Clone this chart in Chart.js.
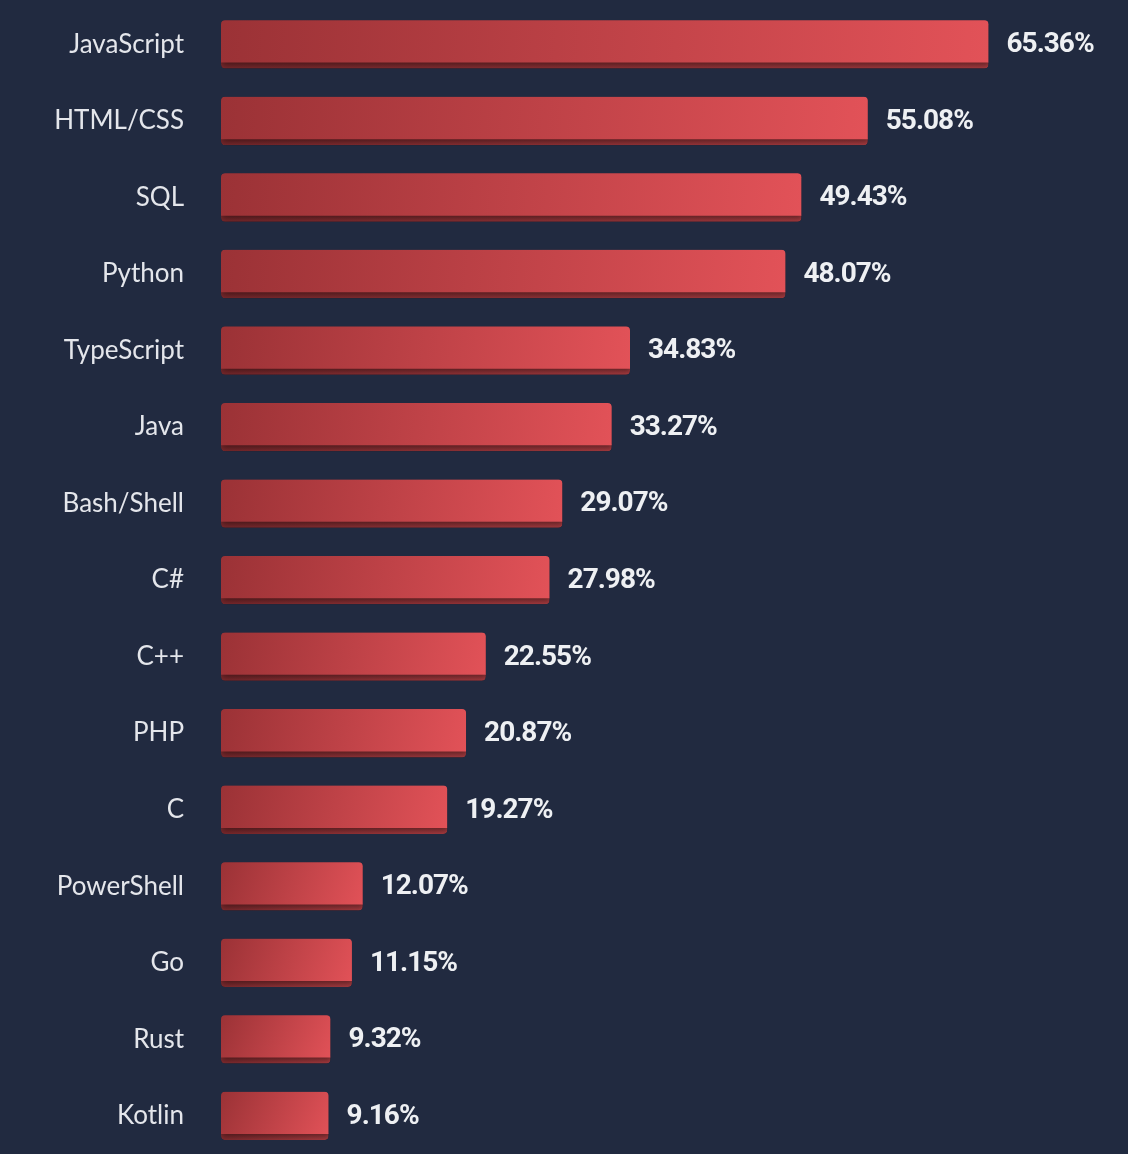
<!DOCTYPE html>
<html>
<head>
<meta charset="utf-8">
<script src="https://cdn.jsdelivr.net/npm/chart.js@4/dist/chart.umd.min.js"></script>
<style>
  html, body { margin: 0; padding: 0; background: #212a40; }
  #wrap { width: 1128px; height: 1154px; position: relative; }
</style>
</head>
<body>
<div id="wrap"><canvas id="c"></canvas></div>
<script>
const categories = ["JavaScript", "HTML/CSS", "SQL", "Python", "TypeScript", "Java", "Bash/Shell", "C#", "C++", "PHP", "C", "PowerShell", "Go", "Rust", "Kotlin"];
const values = [65.36, 55.08, 49.43, 48.07, 34.83, 33.27, 29.07, 27.98, 22.55, 20.87, 19.27, 12.07, 11.15, 9.32, 9.16];

function barGradient(ctx, light) {
  const chart = ctx.chart;
  if (!chart.chartArea) return light ? '#c94448' : '#8f3034';
  const xs = chart.scales.x, ys = chart.scales.y;
  const x0 = xs.getPixelForValue(0), x1 = xs.getPixelForValue(ctx.raw);
  const yc = ys.getPixelForValue(ctx.dataIndex);
  const g = chart.ctx.createLinearGradient(x0, yc - 24, x1, yc + 24);
  if (light) {
    g.addColorStop(0, '#9b3236');
    g.addColorStop(1, '#e25258');
  } else {
    g.addColorStop(0, '#7a282c');
    g.addColorStop(1, '#ab3c41');
  }
  return g;
}

const effects = {
  id: 'effects',
  beforeDatasetsDraw(chart) {
    const c = chart.ctx;
    c.save();
    c.shadowColor = 'rgba(0,0,0,0.45)';
    c.shadowBlur = 6;
    c.shadowOffsetY = 3;
    c.shadowOffsetX = 1;
  },
  afterDatasetsDraw(chart) {
    const c = chart.ctx;
    c.restore();
    const meta = chart.getDatasetMeta(0);
    c.save();
    c.font = 'bold 28px Roboto';
    try { c.letterSpacing = '-1px'; } catch (e) {}
    c.fillStyle = '#eef0f3';
    c.textAlign = 'left';
    c.textBaseline = 'middle';
    meta.data.forEach((bar, i) => {
      c.fillText(values[i].toFixed(2) + '%', bar.x + 18, bar.y + 1);
    });
    c.restore();
  }
};

new Chart(document.getElementById('c'), {
  type: 'bar',
  data: {
    labels: categories,
    datasets: [{
      data: values,
      backgroundColor: (ctx) => barGradient(ctx, true),
      borderColor: (ctx) => barGradient(ctx, false),
      borderWidth: { top: 0, left: 0, right: 0, bottom: 6 },
      borderSkipped: false,
      borderRadius: 4,
      barThickness: 48
    }]
  },
  options: {
    indexAxis: 'y',
    responsive: true,
    maintainAspectRatio: false,
    animation: false,
    layout: { padding: { top: 6, bottom: 0, left: 0, right: 85 } },
    plugins: { legend: { display: false }, tooltip: { enabled: false } },
    scales: {
      x: { display: false, min: 0, max: 70 },
      y: {
        grid: { display: false, drawTicks: false },
        border: { display: false },
        ticks: {
          color: '#e4e6eb',
          font: { family: 'Lato', size: 26 },
          padding: 37
        },
        afterFit(scale) { scale.width = 221; scale.paddingTop = 0; scale.paddingBottom = 0; }
      }
    }
  },
  plugins: [effects]
});
</script>
</body>
</html>
